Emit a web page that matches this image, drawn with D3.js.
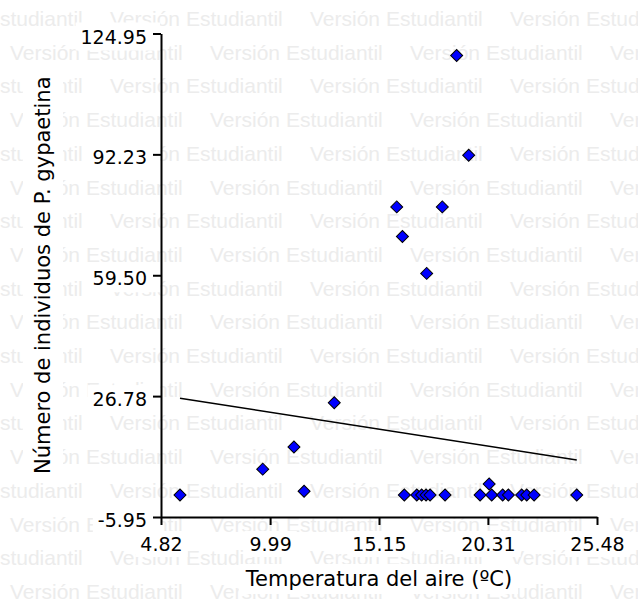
<!DOCTYPE html>
<html>
<head>
<meta charset="utf-8">
<script src="https://cdn.jsdelivr.net/npm/d3@7"></script>
<style>
  html, body { margin: 0; padding: 0; background: #ffffff; }
  svg { display: block; }
</style>
</head>
<body>
<svg id="chart" width="638" height="605"></svg>
<script>
// ---- data ----
const xTickLabels = ["4.82", "9.99", "15.15", "20.31", "25.48"];
const yTickLabels = ["-5.95", "26.78", "59.50", "92.23", "124.95"];
const xTitle = "Temperatura del aire (ºC)";
const yTitle = "Número de individuos de P. gypaetina";
const watermarkText = "Versión Estudiantil";

const temperature = [5.72, 9.64, 11.12, 11.6, 13.03, 18.83, 19.4, 15.99, 18.15, 16.26, 17.41,
  16.35, 16.94, 17.17, 17.38, 17.57, 18.28, 19.94, 20.49, 20.37, 21.01, 21.28, 21.91, 22.15, 22.5, 24.52];
const individuals = [0, 7, 13, 1, 25, 119, 92, 78, 78, 70, 60,
  0, 0, 0, 0, 0, 0, 0, 0, 3, 0, 0, 0, 0, 0, 0];

const fitTemperature = [5.72, 24.52];
const fitIndividuals = [26.2, 9.5];

// ---- chart ----
const svg = d3.select("#chart");
const xTicks = xTickLabels.map(Number);
const yTicks = yTickLabels.map(Number);

const x = d3.scaleLinear().domain([xTicks[0], xTicks[xTicks.length - 1]]).range([161, 597]);
const y = d3.scaleLinear().domain([yTicks[0], yTicks[yTicks.length - 1]]).range([517, 33.5]);

// watermark
const wm = svg.append("g").attr("class", "watermark");
for (let i = 0; i < 18; i++) {
  const base = 26 + 33.7 * i;
  const start = (i % 2 === 0 ? 110 : 10) - 200;
  for (let sx = start; sx < 638; sx += 200) {
    wm.append("text")
      .attr("x", sx).attr("y", base)
      .attr("font-family", "Liberation Sans, Arial, sans-serif")
      .attr("font-size", 21)
      .attr("fill", "#ececec")
      .text(watermarkText);
  }
}

const boxes = svg.append("g").attr("class", "boxes");
const main = svg.append("g");

const labelFont = "DejaVu Sans, Verdana, sans-serif";

// x axis
const xAxis = main.append("g").attr("transform", `translate(0,${y.range()[0]})`)
  .call(d3.axisBottom(x).tickValues(xTicks).tickSize(8).tickSizeOuter(0).tickFormat((d, i) => xTickLabels[i]));
xAxis.select(".domain").attr("stroke", "#000").attr("stroke-width", 2);
xAxis.selectAll(".tick line").attr("stroke", "#000").attr("stroke-width", 2);
xAxis.selectAll(".tick text")
  .attr("font-family", labelFont).attr("font-size", 19).attr("fill", "#000")
  .attr("y", 20.5).attr("dy", "0.71em");

// y axis
const yAxis = main.append("g").attr("transform", `translate(${x.range()[0]},0)`)
  .call(d3.axisLeft(y).tickValues(yTicks).tickSize(8).tickSizeOuter(0).tickFormat((d, i) => yTickLabels[i]));
yAxis.select(".domain").attr("stroke", "#000").attr("stroke-width", 2);
yAxis.selectAll(".tick line").attr("stroke", "#000").attr("stroke-width", 2);
yAxis.selectAll(".tick text")
  .attr("font-family", labelFont).attr("font-size", 19).attr("fill", "#000")
  .attr("x", -14).attr("dy", "0.5em");

// titles
const xt = main.append("text")
  .attr("x", (x.range()[0] + x.range()[1]) / 2).attr("y", 586)
  .attr("text-anchor", "middle")
  .attr("font-family", labelFont).attr("font-size", 21).attr("fill", "#000")
  .text(xTitle);
const yt = main.append("text")
  .attr("transform", `translate(50,${(y.range()[0] + y.range()[1]) / 2}) rotate(-90)`)
  .attr("text-anchor", "middle")
  .attr("font-family", labelFont).attr("font-size", 21).attr("fill", "#000")
  .text(yTitle);

// regression line
main.append("path")
  .datum(fitTemperature.map((t, i) => [t, fitIndividuals[i]]))
  .attr("d", d3.line().x(d => x(d[0])).y(d => y(d[1])))
  .attr("fill", "none").attr("stroke", "#000").attr("stroke-width", 1.5);

// points
const diamond = d3.symbol().type(d3.symbolSquare).size(72);
main.append("g").selectAll("path")
  .data(temperature.map((t, i) => [t, individuals[i]]))
  .join("path")
  .attr("d", diamond)
  .attr("transform", d => `translate(${x(d[0])},${y(d[1])}) rotate(45)`)
  .attr("fill", "#0000ff").attr("stroke", "#000").attr("stroke-width", 1);

// white boxes behind labels (hide watermark)
function addBox(node, padX, padY, extendRight) {
  const bb = node.getBBox();
  const m = node.getCTM();
  const p = svg.node().createSVGPoint();
  const pts = [[bb.x, bb.y], [bb.x + bb.width, bb.y], [bb.x, bb.y + bb.height], [bb.x + bb.width, bb.y + bb.height]]
    .map(([a, b]) => { p.x = a; p.y = b; const q = p.matrixTransform(m); return [q.x, q.y]; });
  let x0 = d3.min(pts, d => d[0]) - padX, x1 = d3.max(pts, d => d[0]) + padX;
  const y0 = d3.min(pts, d => d[1]) - padY, y1 = d3.max(pts, d => d[1]) + padY;
  if (extendRight !== undefined) x1 = extendRight;
  boxes.append("rect").attr("x", x0).attr("y", y0).attr("width", x1 - x0).attr("height", y1 - y0).attr("fill", "#fff");
}
yAxis.selectAll(".tick text").each(function () { addBox(this, 5, 3, 160); });
xAxis.selectAll(".tick text").each(function () { addBox(this, 5, 2); });
addBox(xt.node(), 6, 3);
addBox(yt.node(), 8, 8);
</script>
</body>
</html>
